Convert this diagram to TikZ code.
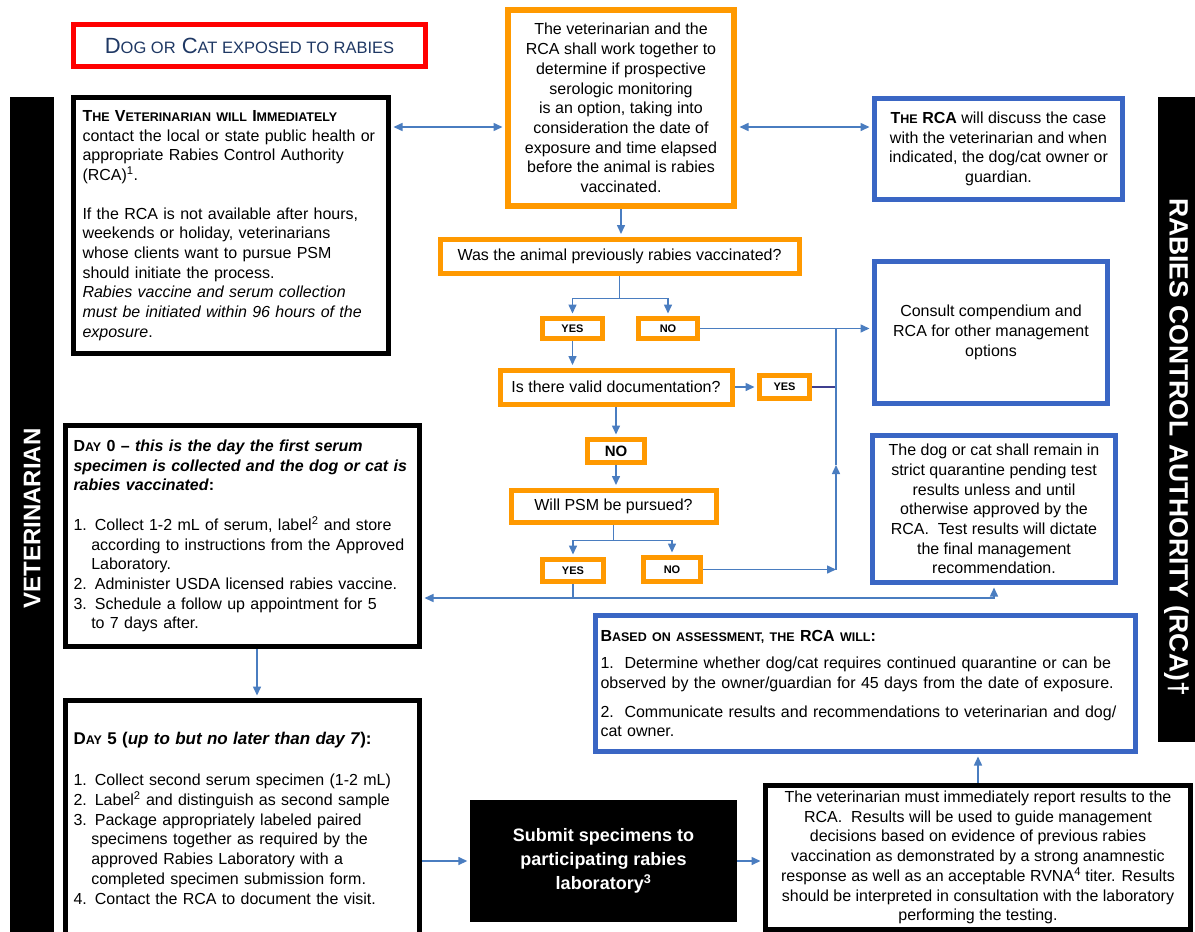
\documentclass[tikz,border=0pt]{standalone}
\usepackage{fontspec}
\setmainfont{Liberation Sans}
\usetikzlibrary{arrows.meta,backgrounds}
\definecolor{titlered}{HTML}{FF0000}
\definecolor{titlenavy}{HTML}{1F3864}
\definecolor{boxorange}{HTML}{FF9900}
\definecolor{boxblue}{HTML}{3A66C4}
\definecolor{linkblue}{HTML}{4A7DC0}
\definecolor{linkdark}{HTML}{3F3F8F}
\newcommand\bodysize{\fontsize{16}{19.7}\selectfont}
\newcommand\scs[1]{{\fontsize{12.5}{12.5}\selectfont #1}}
\newcommand\tsc[1]{{\fontsize{16.5}{16.5}\selectfont #1}}
\newcommand\numindent{\hspace*{1.11em}}

\begin{document}
\begin{tikzpicture}[
    x=1pt, y=-1pt,
    vetbox/.style={draw=black, line width=5pt, fill=white, align=left, font=\bodysize},
    guide/.style={draw=boxorange, line width=6pt, fill=white, align=center, font=\bodysize},
    question/.style={draw=boxorange, line width=5pt, fill=white, font=\bodysize},
    answer/.style={draw=boxorange, line width=5pt, fill=white, inner sep=0pt,
                   font=\bfseries\fontsize{11}{11}\selectfont},
    rcabox/.style={draw=boxblue, line width=5pt, fill=white, align=center, font=\bodysize},
    sidebar/.style={fill=black, text=white, inner sep=0pt, font=\bfseries\fontsize{24}{24}\selectfont},
    link/.style={draw=linkblue, line width=1.5pt},
    arrow/.style={link, -{Triangle[length=9pt,width=8pt]}, shorten >=2.5pt},
    twoway/.style={link, {Triangle[length=9pt,width=8pt]}-{Triangle[length=9pt,width=8pt]},
                   shorten >=2.5pt, shorten <=2.5pt}
]
    \useasboundingbox (0,0) rectangle (1195,932);

    \node[draw=titlered, line width=5pt, minimum width=352pt, minimum height=42pt, text=titlenavy,
          font=\fontsize{22}{22}\selectfont] (exposed) at (249.5,45.5) {D\tsc{OG OR} C\tsc{AT EXPOSED TO RABIES}};

    \node[sidebar, rotate=90, minimum width=843pt, minimum height=44pt] (vetbar) at (32,518.5) {VETERINARIAN};
    \node[sidebar, minimum width=40pt, minimum height=645pt] (rcabar) at (1178,419.5) {};
    \node[rotate=-90, text=white, font=\bfseries\fontsize{26.5}{26.5}\selectfont] (rcatitle) at (1176.5,447)
         {RABIES CONTROL AUTHORITY (RCA)\textdagger};

    \node[vetbox, text width=297pt, inner xsep=9pt, minimum height=256pt] (vetone) at (231,225.5) {
        \textbf{T\scs{HE} V\scs{ETERINARIAN WILL} I\scs{MMEDIATELY}}\\
        contact the local or state public health or\\
        appropriate Rabies Control Authority\\
        (RCA)\textsuperscript{1}.\\[19pt]
        If the RCA is not available after hours,\\
        weekends or holiday, veterinarians\\
        whose clients want to pursue PSM\\
        should initiate the process.\\
        \textit{Rabies vaccine and serum collection}\\
        \textit{must be initiated within 96 hours of the}\\
        \textit{exposure}.};

    \node[guide, minimum width=226pt, minimum height=196pt] (together) at (621,108)
         {The veterinarian and the\\RCA shall work together to\\determine if prospective\\serologic monitoring\\
          is an option, taking into\\consideration the date of\\exposure and time elapsed\\before the animal is rabies\\vaccinated.};

    \node[rcabox, minimum width=248pt, minimum height=101pt] (discuss) at (998.5,149)
         {\textbf{T\scs{HE} RCA} will discuss the case\\with the veterinarian and when\\indicated, the dog/cat owner or\\guardian.};

    \node[question, minimum width=359pt, minimum height=34pt] (wasq) at (619.5,256) {Was the animal previously rabies vaccinated?};
    \node[answer, minimum width=60pt, minimum height=20pt] (yesone) at (572.5,328.5) {YES};
    \node[answer, minimum width=59pt, minimum height=20pt] (noone) at (668,328.5) {NO};
    \node[question, minimum width=232pt, minimum height=34pt] (isq) at (616,387) {Is there valid documentation?};
    \node[answer, minimum width=50pt, minimum height=23pt] (yestwo) at (784.5,387) {YES};
    \node[rcabox, minimum width=233pt, minimum height=142pt] (consult) at (991,332.5)
         {Consult compendium and\\RCA for other management\\options};
    \node[answer, minimum width=57pt, minimum height=23pt, font=\bfseries\fontsize{15}{15}\selectfont] (notwo) at (616,451) {NO};
    \node[question, minimum width=205pt, minimum height=32pt] (willq) at (613.5,506) {Will PSM be pursued?};
    \node[answer, minimum width=61pt, minimum height=22pt] (yesthree) at (573,570.5) {YES};
    \node[answer, minimum width=57pt, minimum height=24pt] (nothree) at (672,569.5) {NO};
    \node[rcabox, minimum width=243pt, minimum height=147pt] (quarantine) at (994,509)
         {The dog or cat shall remain in\\strict quarantine pending test\\results unless and until\\otherwise approved by the\\
          RCA.\ \ Test results will dictate\\the final management\\recommendation.};

    \node[vetbox, text width=338pt, inner xsep=8pt, minimum height=221pt] (dayzero) at (242.5,536) {
        \textbf{D\scs{AY} 0 -- \textit{this is the day the first serum}}\\
        \textbf{\textit{specimen is collected and the dog or cat is}}\\
        \textbf{\textit{rabies vaccinated}:}\\[20pt]
        1. Collect 1-2 mL of serum, label\textsuperscript{2} and store\\
        \numindent according to instructions from the Approved\\
        \numindent Laboratory.\\
        2. Administer USDA licensed rabies vaccine.\\
        3. Schedule a follow up appointment for 5\\
        \numindent to 7 days after.};

    \node[rcabox, align=left, text width=530pt, inner xsep=5pt, minimum height=136pt] (assess) at (865.5,683.5) {
        \textbf{B\scs{ASED ON ASSESSMENT, THE} RCA \scs{WILL}:}\\[8pt]
        1.\ \ Determine whether dog/cat requires continued quarantine or can be\\
        observed by the owner/guardian for 45 days from the date of exposure.\\[9pt]
        2.\ \ Communicate results and recommendations to veterinarian and dog/\\
        cat owner.};

    \node[vetbox, text width=338pt, inner xsep=8pt, minimum height=235pt] (dayfive) at (242.5,818) {
        {\fontsize{17}{20}\selectfont\bfseries D\scs{AY} 5 (\textit{up to but no later than day 7}):}\\[22pt]
        1. Collect second serum specimen (1-2 mL)\\
        2. Label\textsuperscript{2} and distinguish as second sample\\
        3. Package appropriately labeled paired\\
        \numindent specimens together as required by the\\
        \numindent approved Rabies Laboratory with a\\
        \numindent completed specimen submission form.\\
        4. Contact the RCA to document the visit.};

    \node[fill=black, text=white, align=center, minimum width=267pt, minimum height=122pt,
          font=\bfseries\fontsize{18}{24}\selectfont] (submit) at (603.5,861)
         {Submit specimens to\\participating rabies\\laboratory\textsuperscript{3}};

    \node[vetbox, align=center, minimum width=425pt, minimum height=144pt] (results) at (978,857.5)
         {The veterinarian must immediately report results to the\\RCA.\ \ Results will be used to guide management\\
          decisions based on evidence of previous rabies\\vaccination as demonstrated by a strong anamnestic\\
          response as well as an acceptable RVNA\textsuperscript{4} titer. Results\\
          should be interpreted in consultation with the laboratory\\performing the testing.};

    \coordinate (upper) at (0,127);
    \coordinate (jx) at (836,0);
    \coordinate (jup) at (836,465);
    \coordinate (lower) at (0,598);
    \coordinate (dx) at (257,0);

    \begin{scope}[on background layer]
        \fill[white] (0,0) rectangle (1195,932);
        \draw[twoway] (vetone.east |- upper) -- (together.west |- upper);
        \draw[twoway] (together.east |- upper) -- (discuss.west |- upper);
        \draw[arrow] (together.south) -- (together.south |- wasq.north);
        \draw[link] (wasq.south) -- ++(0,23) coordinate (forkone);
        \draw[arrow] (forkone) -| (yesone.north);
        \draw[arrow] (forkone) -| (noone.north);
        \draw[arrow] (yesone.south) -- (yesone.south |- isq.north);
        \draw[arrow] (noone.east) -- (consult.west |- noone.east);
        \draw[arrow] (isq.east) -- (yestwo.west);
        \draw[draw=linkdark, line width=1.5pt] (yestwo.east) -- (yestwo.east -| jx);
        \draw[arrow] (isq.south) -- (notwo.north);
        \draw[arrow] (notwo.south) -- (notwo.south |- willq.north);
        \draw[link] (willq.south) -- ++(0,16) coordinate (forktwo);
        \draw[arrow] (forktwo) -| (yesthree.north);
        \draw[arrow] (forktwo) -| (nothree.north);
        \draw[arrow, shorten >=0pt] (nothree.east) -- (nothree.east -| jx);
        \draw[arrow, shorten >=0pt] (nothree.east -| jx) -- (jup);
        \draw[link] (jup) -- (jx |- noone.east);
        \draw[link] (yesthree.south) -- (yesthree.south |- lower) coordinate (forkthree);
        \draw[arrow] (forkthree) -- (dayzero.east |- forkthree);
        \draw[arrow] (forkthree) -| (quarantine.south);
        \draw[arrow] (dx |- dayzero.south) -- (dx |- dayfive.north);
        \draw[arrow] (dayfive.east |- submit.west) -- (submit.west);
        \draw[arrow] (submit.east) -- (results.west |- submit.east);
        \draw[arrow] (results.north) -- (results.north |- assess.south);
    \end{scope}
\end{tikzpicture}
\end{document}
